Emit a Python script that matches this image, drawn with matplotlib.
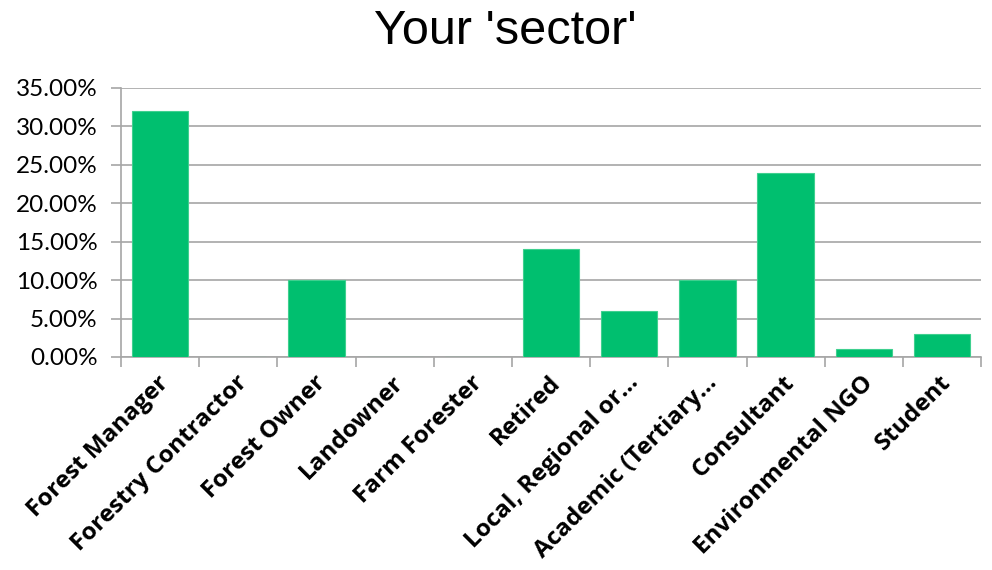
import matplotlib
matplotlib.use("Agg")
import matplotlib.pyplot as plt
from matplotlib.ticker import FuncFormatter, FixedLocator
import numpy as np

categories = [
    "Forest Manager", "Forestry Contractor", "Forest Owner", "Landowner",
    "Farm Forester", "Retired", "Local, Regional or\u2026", "Academic (Tertiary\u2026",
    "Consultant", "Environmental NGO", "Student",
]
shares = [32, 0, 10, 0, 0, 14, 6, 10, 24, 1, 3]
title = "Your 'sector'"

bar_color = "#00BF6F"
grid_color = "#a6a6a6"

fig = plt.figure(figsize=(9.92, 5.70), dpi=100)
ax = fig.add_axes([0.122, 0.3737, 0.867, 0.472])

x = np.arange(len(categories))
ax.bar(x, shares, width=0.72, color=bar_color, edgecolor="#3fd08f", linewidth=0.8, zorder=3)

ax.set_xlim(-0.5, len(categories) - 0.5)
ax.set_ylim(0, 35)
ax.set_yticks(np.arange(0, 36, 5))
ax.yaxis.set_major_formatter(FuncFormatter(lambda v, p: f"{v:.2f}%"))
ax.grid(axis="y", color=grid_color, linewidth=1.2, zorder=0)
ax.set_axisbelow(True)

# category boundaries carry the x tick marks
ax.xaxis.set_major_locator(FixedLocator(np.arange(-0.5, len(categories), 1.0)))
ax.set_xticklabels([])
ax.tick_params(axis="x", length=7, color=grid_color, width=1.2, direction="out")
ax.tick_params(axis="y", length=7, color=grid_color, width=1.2, direction="out",
               labelsize=17.5, pad=10)
for lbl in ax.get_yticklabels():
    lbl.set_fontfamily("Lato")

for s in ["top", "right"]:
    ax.spines[s].set_visible(False)
for s in ["left", "bottom"]:
    ax.spines[s].set_color(grid_color)
    ax.spines[s].set_linewidth(1.2)

for xi, name in zip(x, categories):
    ax.annotate(name, xy=(xi, 0), xycoords=("data", "axes fraction"),
                xytext=(-2, -10), textcoords="offset points",
                rotation=45, ha="right", va="top", rotation_mode="anchor",
                fontsize=17.5, fontweight="bold",
                family=["Open Sans", "DejaVu Sans"])

fig.text(0.509, 0.945, title, ha="center", va="center", fontsize=35,
         family="Liberation Sans")

fig.savefig("out.png", dpi=100)
